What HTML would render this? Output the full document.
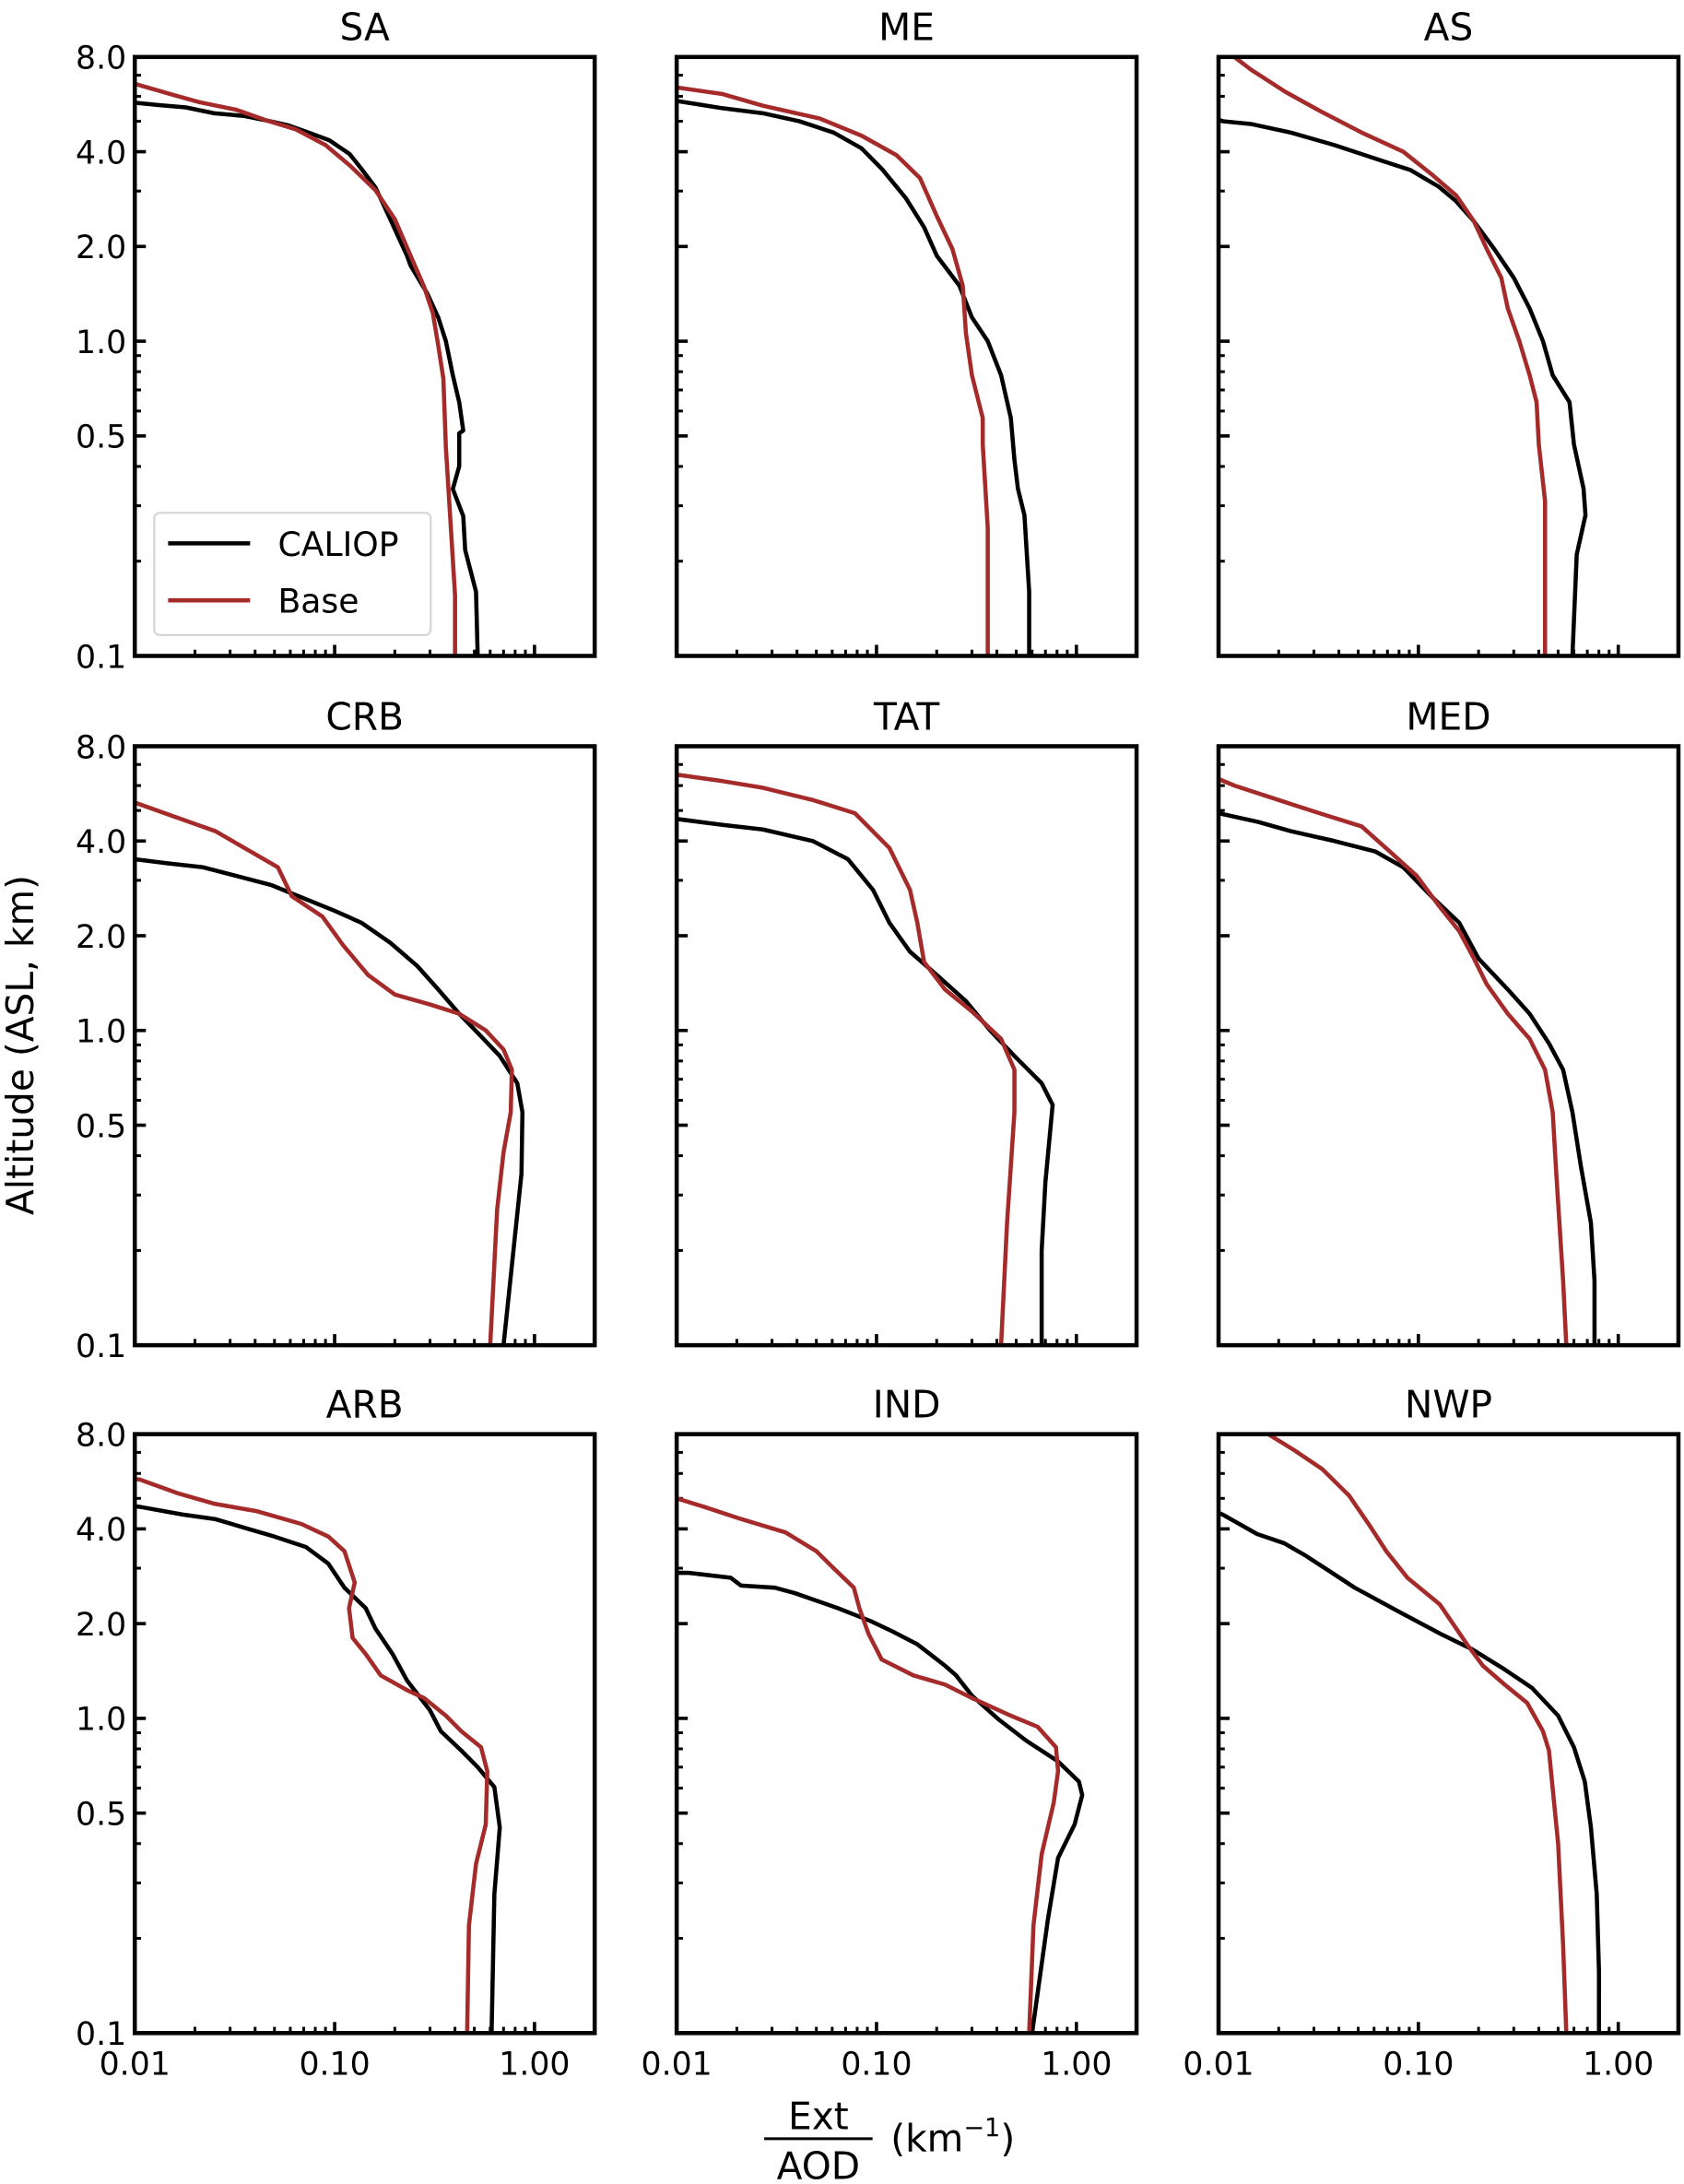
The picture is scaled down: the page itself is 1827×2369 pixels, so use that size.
<!DOCTYPE html>
<html><head><meta charset="utf-8"><style>
html,body{margin:0;padding:0;background:#fff;}
svg{display:block;}
text{font-family:"DejaVu Sans","Liberation Sans",sans-serif;fill:#000;}
</style></head><body>
<svg id="fig" width="1827" height="2369" viewBox="0 0 1212 1571.6" preserveAspectRatio="none" xmlns="http://www.w3.org/2000/svg"></svg>
<script>
const panelNames = ["SA","ME","AS","CRB","TAT","MED","ARB","IND","NWP"];
const xTickValues = [0.01, 0.1, 1];
const xTickLabels = ["0.01","0.10","1.00"];
const yTickValues = [8, 4, 2, 1, 0.5, 0.1];
const yTickLabels = ["8.0","4.0","2.0","1.0","0.5","0.1"];
const yMinorValues = [0.2,0.3,0.4,0.6,0.7,0.8,0.9,3,5,6,7];
const xMinorValues = [0.02,0.03,0.04,0.05,0.06,0.07,0.08,0.09,0.2,0.3,0.4,0.5,0.6,0.7,0.8,0.9];

const saCalExt = [0.52,0.51,0.45,0.44,0.39,0.42,0.42,0.44,0.42,0.39,0.36,0.33,0.29,0.24,0.23,0.19,0.16,0.137,0.119,0.094,0.074,0.058,0.046,0.035,0.025,0.018,0.0134,0.0101];
const saCalAlt = [0.1,0.16,0.217,0.278,0.339,0.40,0.51,0.52,0.64,0.78,1.0,1.19,1.42,1.74,1.87,2.44,3.08,3.51,3.93,4.35,4.6,4.86,5.02,5.2,5.3,5.53,5.62,5.72];
const saBaseExt = [0.40,0.40,0.36,0.35,0.33,0.31,0.28,0.24,0.20,0.16,0.119,0.090,0.064,0.046,0.032,0.021,0.0155,0.0101];
const saBaseAlt = [0.1,0.156,0.46,0.76,0.97,1.23,1.49,1.87,2.44,3.02,3.62,4.2,4.71,5.02,5.44,5.75,6.07,6.56];

const meCalExt = [0.58,0.58,0.55,0.51,0.49,0.47,0.42,0.36,0.30,0.26,0.20,0.173,0.14,0.107,0.084,0.061,0.041,0.027,0.017,0.01];
const meCalAlt = [0.1,0.16,0.28,0.34,0.42,0.57,0.78,1.0,1.19,1.5,1.87,2.3,2.85,3.51,4.1,4.6,5.0,5.3,5.5,5.8];
const meBaseExt = [0.36,0.36,0.34,0.34,0.30,0.28,0.27,0.24,0.20,0.165,0.126,0.084,0.052,0.027,0.017,0.01];
const meBaseAlt = [0.1,0.255,0.47,0.57,0.78,1.06,1.5,1.96,2.5,3.3,3.9,4.5,5.1,5.6,6.1,6.4];

const asCalExt = [0.59,0.62,0.685,0.67,0.60,0.57,0.47,0.42,0.36,0.30,0.24,0.19,0.155,0.126,0.091,0.061,0.038,0.023,0.0145,0.0105,0.01];
const asCalAlt = [0.1,0.21,0.28,0.34,0.47,0.64,0.78,1.0,1.27,1.59,1.96,2.4,2.78,3.1,3.5,3.8,4.2,4.6,4.9,5.0,5.05];
const asBaseExt = [0.43,0.43,0.40,0.39,0.36,0.32,0.28,0.26,0.22,0.19,0.155,0.116,0.084,0.052,0.032,0.0216,0.0145,0.012];
const asBaseAlt = [0.1,0.31,0.47,0.64,0.78,1.0,1.27,1.59,1.96,2.4,2.9,3.4,4.0,4.6,5.4,6.2,7.3,8.0];

const crbCalExt = [0.70,0.86,0.87,0.82,0.67,0.53,0.42,0.33,0.26,0.19,0.136,0.1,0.066,0.048,0.032,0.022,0.0145,0.01];
const crbCalAlt = [0.1,0.35,0.55,0.68,0.83,0.97,1.13,1.35,1.6,1.9,2.2,2.4,2.67,2.9,3.1,3.3,3.4,3.5];
const crbBaseExt = [0.60,0.65,0.70,0.76,0.77,0.70,0.57,0.42,0.30,0.20,0.147,0.11,0.087,0.061,0.052,0.038,0.0253,0.017,0.01];
const crbBaseAlt = [0.1,0.27,0.41,0.55,0.75,0.87,1.0,1.13,1.21,1.3,1.5,1.87,2.3,2.67,3.3,3.7,4.3,4.7,5.3];

const tatCalExt = [0.67,0.67,0.70,0.76,0.67,0.49,0.37,0.28,0.20,0.147,0.116,0.096,0.072,0.048,0.027,0.017,0.01];
const tatCalAlt = [0.1,0.2,0.33,0.58,0.68,0.83,1.0,1.24,1.5,1.78,2.2,2.8,3.5,4.0,4.35,4.5,4.7];
const tatBaseExt = [0.42,0.45,0.49,0.49,0.42,0.30,0.22,0.173,0.16,0.147,0.116,0.078,0.048,0.027,0.017,0.01];
const tatBaseAlt = [0.1,0.245,0.55,0.75,0.94,1.15,1.35,1.65,2.2,2.8,3.8,4.9,5.4,5.9,6.2,6.5];

const medCalExt = [0.76,0.76,0.73,0.65,0.59,0.53,0.45,0.36,0.28,0.20,0.16,0.116,0.084,0.061,0.038,0.023,0.0157,0.01];
const medCalAlt = [0.1,0.16,0.245,0.37,0.55,0.75,0.91,1.13,1.35,1.69,2.2,2.67,3.3,3.7,4.0,4.3,4.6,4.9];
const medBaseExt = [0.55,0.53,0.49,0.47,0.43,0.36,0.28,0.22,0.19,0.16,0.126,0.098,0.072,0.052,0.032,0.02,0.012,0.01];
const medBaseAlt = [0.1,0.16,0.35,0.55,0.75,0.94,1.13,1.4,1.69,2.07,2.5,3.1,3.7,4.45,4.9,5.4,6.0,6.3];

const arbCalExt = [0.61,0.63,0.67,0.63,0.52,0.43,0.34,0.30,0.23,0.195,0.16,0.143,0.112,0.093,0.072,0.050,0.037,0.0252,0.0174,0.0106,0.01];
const arbCalAlt = [0.1,0.276,0.45,0.605,0.70,0.79,0.91,1.06,1.32,1.6,1.93,2.24,2.6,3.1,3.5,3.78,4.0,4.3,4.44,4.7,4.72];
const arbBaseExt = [0.46,0.47,0.51,0.57,0.58,0.54,0.43,0.36,0.28,0.23,0.17,0.143,0.123,0.118,0.126,0.112,0.093,0.068,0.041,0.0252,0.0163,0.0106,0.01];
const arbBaseAlt = [0.1,0.22,0.345,0.46,0.68,0.81,0.91,1.02,1.16,1.23,1.37,1.6,1.8,2.24,2.7,3.4,3.78,4.15,4.55,4.8,5.2,5.74,5.76];

const indCalExt = [0.60,0.72,0.81,0.98,1.07,1.03,0.81,0.56,0.41,0.30,0.25,0.22,0.16,0.12,0.093,0.064,0.039,0.031,0.021,0.0186,0.0114,0.01];
const indCalAlt = [0.1,0.23,0.36,0.46,0.57,0.63,0.73,0.85,0.99,1.18,1.37,1.47,1.72,1.89,2.04,2.24,2.5,2.6,2.64,2.8,2.9,2.9];
const indBaseExt = [0.58,0.61,0.67,0.77,0.81,0.79,0.64,0.47,0.30,0.22,0.153,0.106,0.091,0.082,0.077,0.061,0.050,0.035,0.021,0.0137,0.01];
const indBaseAlt = [0.1,0.22,0.37,0.54,0.68,0.81,0.94,1.02,1.16,1.28,1.37,1.54,1.86,2.24,2.6,3.0,3.4,3.9,4.3,4.7,5.0];

const nwpCalExt = [0.80,0.80,0.78,0.73,0.68,0.60,0.50,0.37,0.27,0.185,0.128,0.078,0.048,0.037,0.027,0.0213,0.0156,0.0105,0.01];
const nwpCalAlt = [0.1,0.157,0.276,0.45,0.63,0.81,1.02,1.25,1.43,1.66,1.86,2.2,2.6,2.9,3.3,3.6,3.85,4.44,4.5];
const nwpBaseExt = [0.55,0.53,0.50,0.45,0.42,0.35,0.27,0.21,0.175,0.128,0.088,0.069,0.057,0.045,0.033,0.024,0.0177,0.016];
const nwpBaseAlt = [0.1,0.19,0.40,0.79,0.91,1.12,1.28,1.47,1.72,2.3,2.8,3.4,4.1,5.1,6.2,7.1,8.0,8.3];

const calExt = [saCalExt,meCalExt,asCalExt,crbCalExt,tatCalExt,medCalExt,arbCalExt,indCalExt,nwpCalExt];
const calAlt = [saCalAlt,meCalAlt,asCalAlt,crbCalAlt,tatCalAlt,medCalAlt,arbCalAlt,indCalAlt,nwpCalAlt];
const baseExt = [saBaseExt,meBaseExt,asBaseExt,crbBaseExt,tatBaseExt,medBaseExt,arbBaseExt,indBaseExt,nwpBaseExt];
const baseAlt = [saBaseAlt,meBaseAlt,asBaseAlt,crbBaseAlt,tatBaseAlt,medBaseAlt,arbBaseAlt,indBaseAlt,nwpBaseAlt];

const NS = "http://www.w3.org/2000/svg";
const svg = document.getElementById("fig");
const colLeft = [97, 487, 877], rowTop = [41, 537, 1032];
const PW = 331, PH = 431;
const XMIN = 0.01, XMAX = 2, YMIN = 0.1, YMAX = 8;
function mk(tag, attrs, parent) {
  const e = document.createElementNS(NS, tag);
  for (const k in attrs) e.setAttribute(k, attrs[k]);
  (parent || svg).appendChild(e);
  return e;
}
function xScale(v, L) { return L + PW * (Math.log10(v) - Math.log10(XMIN)) / (Math.log10(XMAX) - Math.log10(XMIN)); }
function yScale(v, T) { return T + PH - PH * (Math.log10(v) - Math.log10(YMIN)) / (Math.log10(YMAX) - Math.log10(YMIN)); }

const defs = mk("defs", {});
for (let p = 0; p < 9; p++) {
  const r = Math.floor(p / 3), c = p % 3;
  const L = colLeft[c], T = rowTop[r], B = T + PH;
  const g = mk("g", {});
  
  
  const cp = mk("clipPath", {id: "cp" + p}, defs);
  mk("rect", {x: L, y: T, width: PW, height: PH}, cp);
  const t = mk("text", {x: L + PW / 2, y: T - 12, "text-anchor": "middle", "font-size": 27}, g);
  t.textContent = panelNames[p];
  
  
  yTickValues.forEach((v, i) => {
    const y = yScale(v, T);
    mk("line", {x1: L, x2: L + 8, y1: y, y2: y, stroke: "#000", "stroke-width": 2.4}, g);
    if (c === 0) {
      const lt = mk("text", {x: L - 6, y: y + 8.5, "text-anchor": "end", "font-size": 23}, g);
      lt.textContent = yTickLabels[i];
      
      
    }
  });
  yMinorValues.forEach(v => { const y = yScale(v, T); mk("line", {x1: L, x2: L + 4.5, y1: y, y2: y, stroke: "#000", "stroke-width": 2}, g); });
  xTickValues.forEach((v, i) => {
    const x = xScale(v, L);
    mk("line", {x1: x, x2: x, y1: B, y2: B - 8, stroke: "#000", "stroke-width": 2.4}, g);
    if (r === 2) {
      const lt = mk("text", {x: x, y: B + 30, "text-anchor": "middle", "font-size": 23}, g);
      lt.textContent = xTickLabels[i];
      
      
    }
  });
  xMinorValues.forEach(v => { const x = xScale(v, L); mk("line", {x1: x, x2: x, y1: B, y2: B - 4.5, stroke: "#000", "stroke-width": 2}, g); });
  const series = [[calExt[p], calAlt[p], "#000000", "caliop"], [baseExt[p], baseAlt[p], "#a52a2a", "base"]];
  series.forEach(s => {
    const pts = s[0].map((v, i) => xScale(v, L).toFixed(1) + "," + yScale(s[1][i], T).toFixed(1)).join(" ");
    const pl = mk("polyline", {points: pts, fill: "none", stroke: s[2], "stroke-width": 3, "stroke-linejoin": "round", "clip-path": "url(#cp" + p + ")"}, g);
    
    
  });
  const fr = mk("rect", {x: L, y: T, width: PW, height: PH, fill: "none", stroke: "#000", "stroke-width": 3}, g);
  
  
}
const lg = mk("g", {});


mk("rect", {x: 111, y: 369, width: 199, height: 88, rx: 4, fill: "#fff", "fill-opacity": 0.85, stroke: "#d6d6d6", "stroke-width": 1.5}, lg);
mk("line", {x1: 121, x2: 180, y1: 391, y2: 391, stroke: "#000", "stroke-width": 3}, lg);
mk("line", {x1: 121, x2: 180, y1: 432, y2: 432, stroke: "#a52a2a", "stroke-width": 3}, lg);
const l1 = mk("text", {x: 200, y: 400, "font-size": 24}, lg); l1.textContent = "CALIOP";


const l2 = mk("text", {x: 200, y: 441, "font-size": 24}, lg); l2.textContent = "Base";


const yt = mk("text", {x: 0, y: 0, "text-anchor": "middle", "font-size": 27, transform: "translate(24,752) rotate(-90)"});
yt.textContent = "Altitude (ASL, km)";


const xg = mk("g", {});


const e1 = mk("text", {x: 589, y: 1532, "text-anchor": "middle", "font-size": 27}, xg); e1.textContent = "Ext";
mk("line", {x1: 550, x2: 628, y1: 1539, y2: 1539, stroke: "#000", "stroke-width": 2}, xg);
const e2 = mk("text", {x: 589, y: 1568, "text-anchor": "middle", "font-size": 27}, xg); e2.textContent = "AOD";
const e3 = mk("text", {x: 641, y: 1548, "font-size": 27}, xg);
e3.textContent = "(km";
const sup = mk("tspan", {dy: -11, "font-size": 18}, e3); sup.textContent = "−1";
const cl = mk("tspan", {dy: 11}, e3); cl.textContent = ")";
</script>
</body></html>
